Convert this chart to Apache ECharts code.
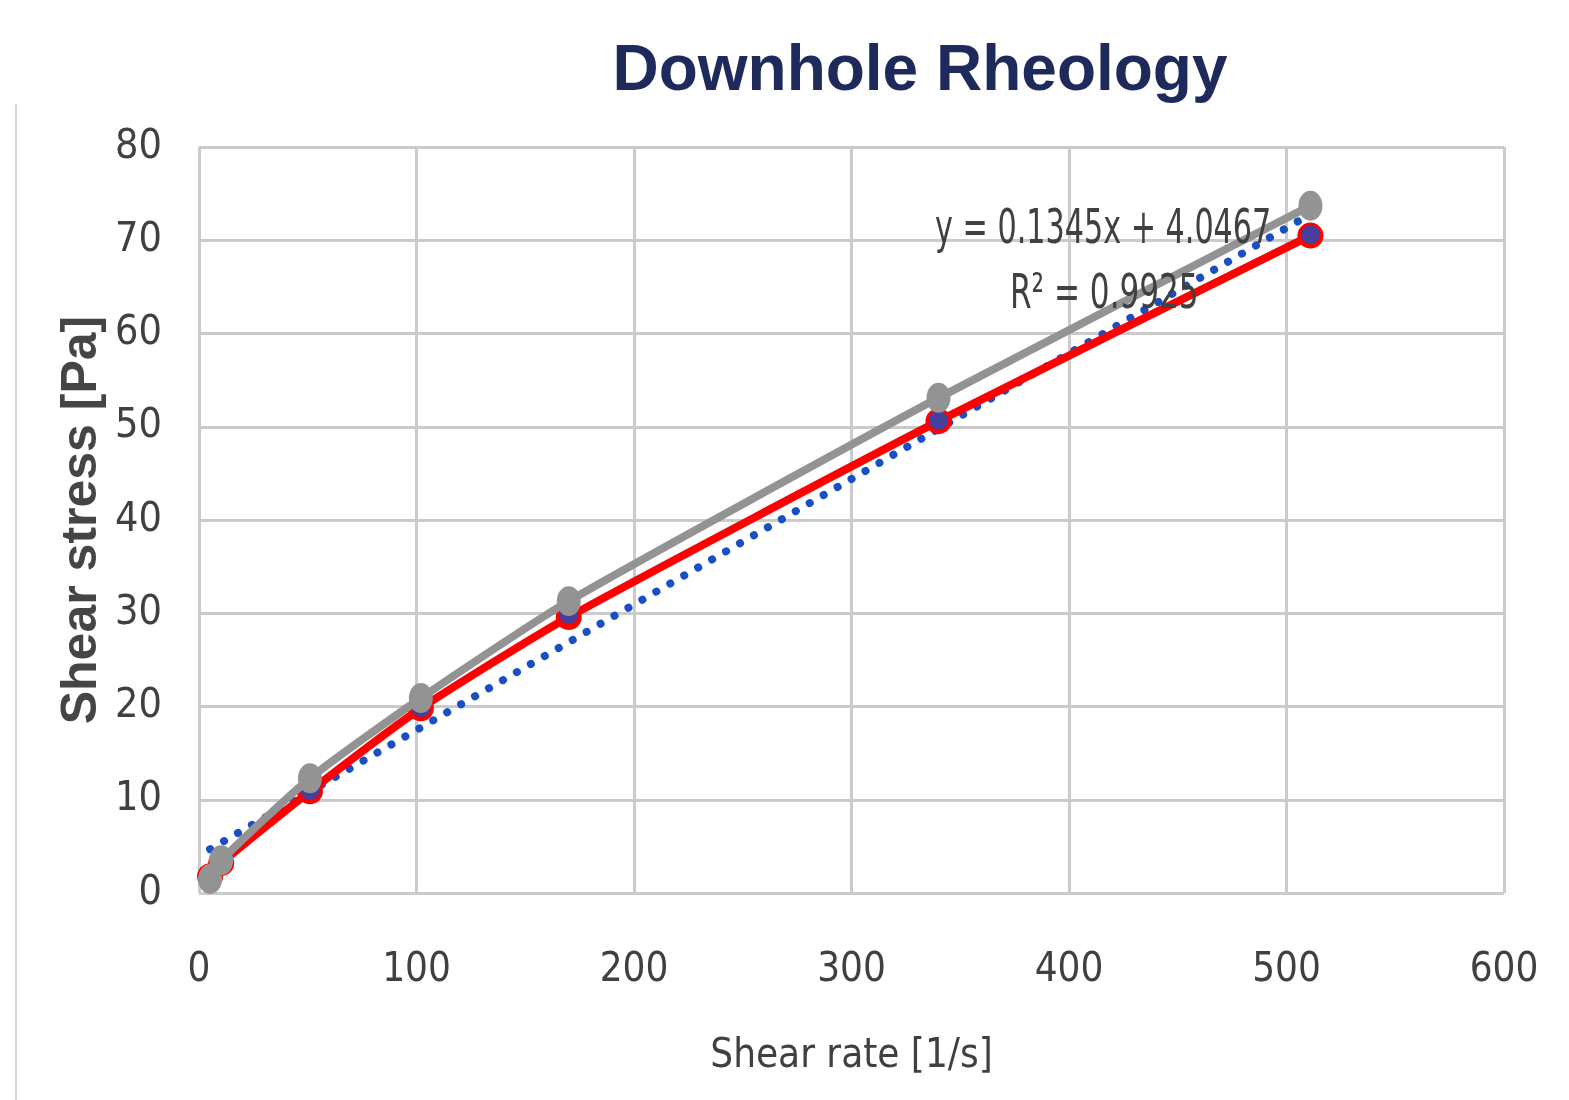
<!DOCTYPE html>
<html>
<head>
<meta charset="utf-8">
<script src="https://cdn.jsdelivr.net/npm/echarts@6/dist/echarts.min.js"></script>
<style>
html, body { margin: 0; padding: 0; background: #fff; }
#chart { width: 1569px; height: 1100px; }
</style>
</head>
<body>
<div id="chart"></div>
<script>
// shear rates (1/s) and measured shear stress (Pa)
var shearRate = [5.1, 10.2, 51, 102, 170, 340, 511];
var stressGray = [1.5, 3.5, 12.3, 20.9, 31.3, 53.1, 73.7];
var stressRed = [1.8, 3.2, 10.9, 19.8, 29.6, 50.6, 70.5];
var stressBlue = [1.6, 3.0, 11.0, 19.9, 29.9, 50.7, 70.6];
// linear trendline end points as drawn
var trendX = [5.1, 511];
var trendY = [4.7, 72.8];
var xTicks = [0, 100, 200, 300, 400, 500, 600];
var yTicks = [0, 10, 20, 30, 40, 50, 60, 70, 80];

var narrow = "'Liberation Sans Narrow', 'DejaVu Sans Condensed', sans-serif";

function pairs(xs, ys) {
    var out = [];
    for (var i = 0; i < xs.length; i++) {
        out.push([xs[i], ys[i]]);
    }
    return out;
}

var myChart = echarts.init(document.getElementById('chart'));

var option = {
    backgroundColor: '#ffffff',
    animation: false,
    title: {
        text: 'Downhole Rheology',
        left: 915,
        top: 35,
        textAlign: 'center',
        textStyle: {
            fontFamily: "'Liberation Sans', Arial, sans-serif",
            fontSize: 64,
            fontWeight: 'bold',
            color: '#1d2a5b'
        }
    },
    grid: {
        left: 199,
        right: 65,
        top: 147,
        bottom: 207
    },
    xAxis: {
        type: 'value',
        min: 0,
        max: 600,
        interval: 100,
        name: 'Shear rate [1/s]',
        nameLocation: 'middle',
        nameGap: 144,
        nameTextStyle: { fontFamily: narrow, fontSize: 40, color: '#404040' },
        axisLine: { show: false },
        axisTick: { show: false },
        axisLabel: {
            margin: 58,
            fontFamily: narrow,
            fontSize: 40,
            color: '#404040',
            formatter: function (v) { return xTicks.indexOf(v) >= 0 ? String(v) : ''; }
        },
        splitLine: { show: true, lineStyle: { color: '#cbcbcb', width: 3 } }
    },
    yAxis: {
        type: 'value',
        min: 0,
        max: 80,
        interval: 10,
        name: 'Shear stress [Pa]',
        nameLocation: 'middle',
        nameRotate: 90,
        nameGap: 92,
        nameMoveOverlap: false,
        nameTextStyle: {
            fontFamily: "'Liberation Sans', Arial, sans-serif",
            fontSize: 50,
            fontWeight: 'bold',
            color: '#454545'
        },
        axisLine: { show: false },
        axisTick: { show: false },
        axisLabel: {
            margin: 37,
            fontFamily: narrow,
            fontSize: 41,
            color: '#404040',
            formatter: function (v) { return yTicks.indexOf(v) >= 0 ? String(v) : ''; }
        },
        splitLine: { show: true, lineStyle: { color: '#cbcbcb', width: 3 } }
    },
    graphic: [
        {
            type: 'line',
            shape: { x1: 16, y1: 104, x2: 16, y2: 1100 },
            style: { stroke: '#d4d4d4', lineWidth: 2 }
        },
        {
            type: 'text',
            x: 935,
            y: 207,
            scaleX: 0.70,
            z: 10,
            style: {
                text: 'y = 0.1345x + 4.0467',
                font: '48px ' + narrow,
                fill: '#404040',
                verticalAlign: 'top'
            }
        },
        {
            type: 'text',
            x: 1010,
            y: 272,
            scaleX: 0.72,
            z: 10,
            style: {
                text: 'R² = 0.9925',
                font: '48px ' + narrow,
                fill: '#404040',
                verticalAlign: 'top'
            }
        }
    ],
    series: [
        {
            name: 'Trend',
            type: 'line',
            data: pairs(trendX, trendY),
            symbol: 'none',
            z: 2,
            lineStyle: { color: '#1a4fc4', width: 8, type: [0.1, 16], cap: 'round' }
        },
        {
            name: 'Red',
            type: 'line',
            data: pairs(shearRate, stressRed),
            smooth: 0.2,
            symbol: 'circle',
            symbolSize: 26,
            z: 3,
            itemStyle: { color: '#ff0000' },
            lineStyle: { color: '#ff0000', width: 8 }
        },
        {
            name: 'Blue',
            type: 'scatter',
            data: pairs(shearRate, stressBlue),
            symbol: 'circle',
            symbolSize: 19,
            z: 4,
            itemStyle: { color: '#1a4fc4' }
        },
        {
            name: 'Gray',
            type: 'line',
            data: pairs(shearRate, stressGray),
            smooth: 0.2,
            symbol: 'circle',
            symbolSize: [24, 30],
            z: 5,
            itemStyle: { color: '#939393' },
            lineStyle: { color: '#939393', width: 8 }
        }
    ]
};

myChart.setOption(option);
</script>
</body>
</html>
